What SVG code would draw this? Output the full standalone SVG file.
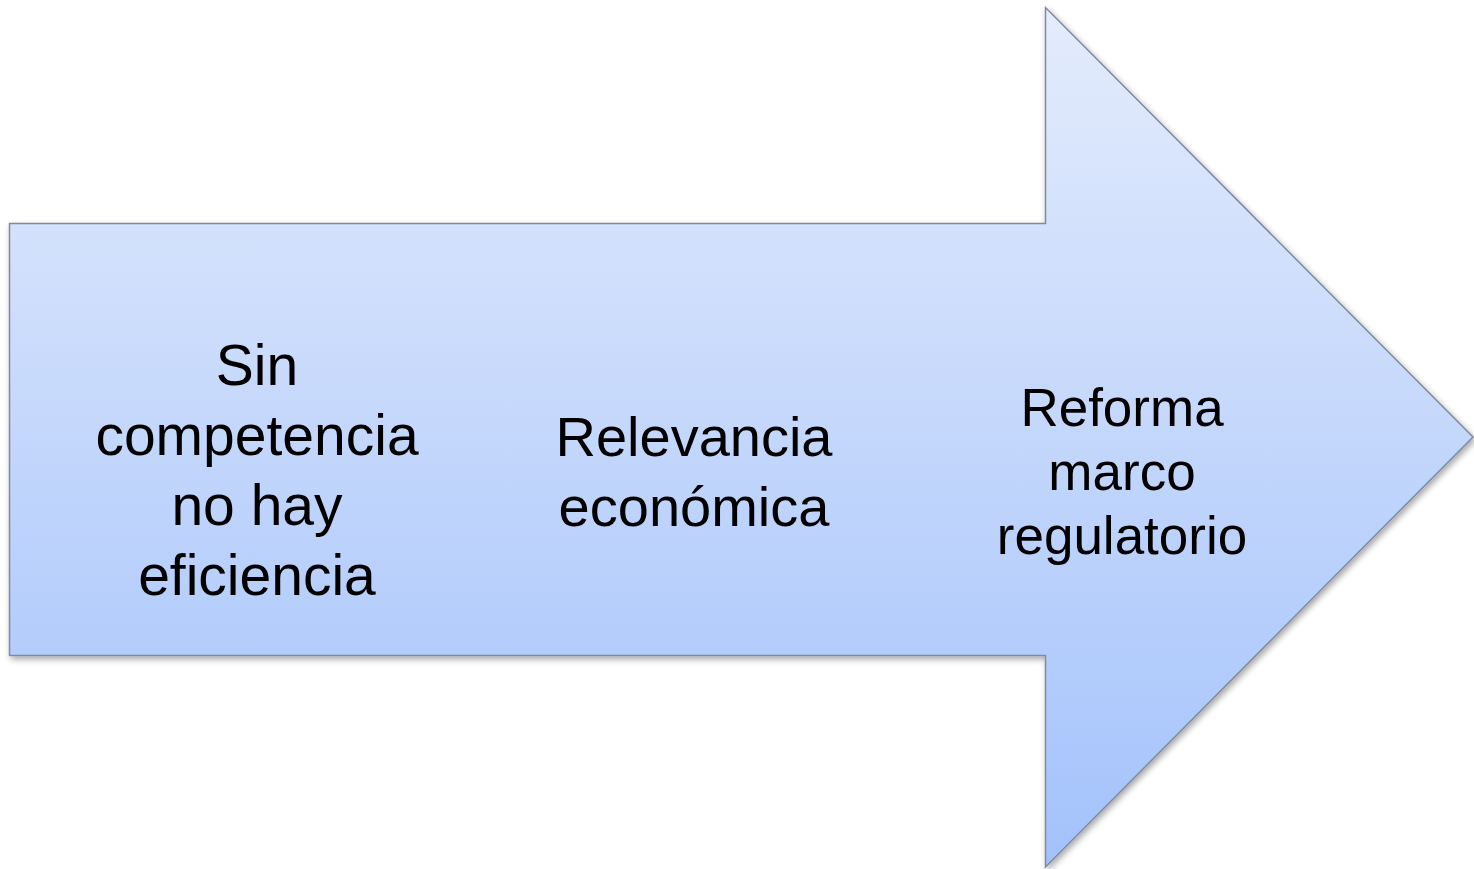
<svg xmlns="http://www.w3.org/2000/svg" width="1474" height="869" viewBox="0 0 1474 869">
<style>
.lbl{font-family:"Liberation Sans",Arial,sans-serif;fill:#000;text-anchor:middle}
.big{font-size:57px}
.mid{font-size:56px}
.sm{font-size:53px}
</style>
<defs>
<linearGradient id="g" x1="0" y1="8" x2="0" y2="867" gradientUnits="userSpaceOnUse">
<stop offset="0" stop-color="#e4ecfc"/>
<stop offset="1" stop-color="#a3c2fb"/>
</linearGradient>
<filter id="sh" x="-5%" y="-5%" width="110%" height="110%">
<feDropShadow dx="2" dy="3" stdDeviation="3" flood-color="#000" flood-opacity="0.35"/>
</filter>
</defs>
<g id="arrow">
<path d="M9.5,223.5 H1045.5 V7.5 L1473,437 L1045.5,867 V655.5 H9.5 Z" fill="url(#g)" stroke="#7f8aa0" stroke-width="1.5" filter="url(#sh)"/>
</g>
<g id="node-left">
<text class="lbl big" x="257" y="385">Sin</text>
<text class="lbl big" x="257" y="455">competencia</text>
<text class="lbl big" x="257" y="525">no hay</text>
<text class="lbl big" x="257" y="595">eficiencia</text>
</g>
<g id="node-middle">
<text class="lbl mid" x="694" y="456">Relevancia</text>
<text class="lbl mid" x="694" y="526">económica</text>
</g>
<g id="node-right">
<text class="lbl sm" x="1122" y="426">Reforma</text>
<text class="lbl sm" x="1122" y="490">marco</text>
<text class="lbl sm" x="1122" y="554">regulatorio</text>
</g>
<g id="connectors"></g>
</svg>
